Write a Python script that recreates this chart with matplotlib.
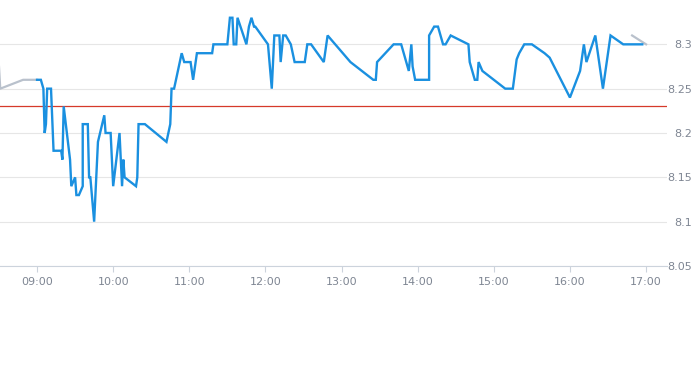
import matplotlib
matplotlib.use("Agg")
import matplotlib.pyplot as plt
import matplotlib.dates as mdates
import pandas as pd

# ---- data ----
times = ["09:00", "09:03", "09:05", "09:06", "09:07", "09:08", "09:11", "09:13", "09:19", "09:20",
         "09:21", "09:26", "09:27", "09:30", "09:31", "09:33", "09:36", "09:36", "09:40", "09:41",
         "09:42", "09:45", "09:48", "09:53", "09:54", "09:58", "10:00", "10:05", "10:07", "10:08",
         "10:09", "10:18", "10:19", "10:20", "10:25", "10:42", "10:45", "10:46", "10:48", "10:51",
         "10:54", "10:56", "11:01", "11:03", "11:06", "11:18", "11:19", "11:30", "11:32", "11:34",
         "11:35", "11:37", "11:38", "11:45", "11:47", "11:49", "11:51", "11:52", "12:02", "12:05",
         "12:07", "12:11", "12:12", "12:14", "12:16", "12:20", "12:23", "12:31", "12:33", "12:36",
         "12:46", "12:49", "13:07", "13:25", "13:27", "13:28", "13:41", "13:47", "13:53", "13:55",
         "13:56", "13:58", "14:09", "14:09", "14:13", "14:16", "14:20", "14:22", "14:26", "14:40",
         "14:41", "14:45", "14:47", "14:48", "14:51", "15:09", "15:15", "15:18", "15:20", "15:24",
         "15:30", "15:40", "15:44", "16:00", "16:08", "16:11", "16:13", "16:20", "16:26", "16:32",
         "16:42", "16:57"]
prices = [8.26, 8.26, 8.25, 8.20, 8.21, 8.25, 8.25, 8.18, 8.18, 8.17,
          8.23, 8.17, 8.14, 8.15, 8.13, 8.13, 8.14, 8.21, 8.21, 8.15,
          8.15, 8.10, 8.19, 8.22, 8.20, 8.20, 8.14, 8.20, 8.14, 8.17,
          8.15, 8.14, 8.15, 8.21, 8.21, 8.19, 8.21, 8.25, 8.25, 8.27,
          8.29, 8.28, 8.28, 8.26, 8.29, 8.29, 8.30, 8.30, 8.33, 8.33,
          8.30, 8.30, 8.33, 8.30, 8.32, 8.33, 8.32, 8.32, 8.30, 8.25,
          8.31, 8.31, 8.28, 8.31, 8.31, 8.30, 8.28, 8.28, 8.30, 8.30,
          8.28, 8.31, 8.28, 8.26, 8.26, 8.28, 8.30, 8.30, 8.27, 8.30,
          8.275, 8.26, 8.26, 8.31, 8.32, 8.32, 8.30, 8.30, 8.31, 8.30,
          8.28, 8.26, 8.26, 8.28, 8.27, 8.25, 8.25, 8.283, 8.29, 8.30,
          8.30, 8.29, 8.285, 8.24, 8.27, 8.30, 8.28, 8.31, 8.25, 8.31,
          8.30, 8.30]

pre_times = ["08:29", "08:31", "08:49", "09:00"]
pre_prices = [8.30, 8.25, 8.26, 8.26]
post_times = ["16:49", "17:00"]
post_prices = [8.31, 8.30]

ref_price = 8.23

xtick_labels = ["09:00", "10:00", "11:00", "12:00", "13:00", "14:00", "15:00", "16:00", "17:00"]
ytick_values = [8.05, 8.1, 8.15, 8.2, 8.25, 8.3]
ytick_labels = ["8.05", "8.1", "8.15", "8.2", "8.25", "8.3"]

DAY = "2024-01-02 "
def to_dt(lst):
    return pd.to_datetime([DAY + t for t in lst])

fig = plt.figure(figsize=(6.93, 3.65), dpi=100)
ax = fig.add_axes([0.0, 1 - 266 / 365, 667 / 693, 266 / 365])

ax.plot(to_dt(pre_times), pre_prices, color="#b9c1cc", lw=1.6, zorder=3)
ax.plot(to_dt(post_times), post_prices, color="#b9c1cc", lw=1.6, zorder=3)
ax.plot(to_dt(times), prices, color="#1a90e0", lw=1.7, zorder=4, solid_joinstyle="miter")
ax.axhline(ref_price, color="#d63a2a", lw=0.9, zorder=2)

ax.set_xlim(pd.Timestamp(DAY + "08:30:48"), pd.Timestamp(DAY + "17:16:30"))
ax.set_ylim(8.05, 8.35)

ax.set_xticks(to_dt(xtick_labels))
ax.set_xticklabels(xtick_labels)
ax.set_yticks(ytick_values)
ax.set_yticklabels(ytick_labels)

ax.yaxis.tick_right()
ax.tick_params(axis="y", length=0, pad=18, labelsize=8, labelcolor="#7f8693")
for lab in ax.get_yticklabels():
    lab.set_horizontalalignment("right")
ax.tick_params(axis="x", length=4, width=0.8, color="#ccd3dc", pad=4,
               labelsize=8, labelcolor="#7f8693")

ax.grid(axis="y", color="#e6e6e6", lw=0.8, zorder=0)
ax.grid(axis="x", visible=False)
for s in ["top", "left", "right"]:
    ax.spines[s].set_visible(False)
ax.spines["bottom"].set_color("#ccd3dc")
ax.spines["bottom"].set_linewidth(0.8)
ax.set_facecolor("white")

fig.savefig("out.png", dpi=100, facecolor="white")
